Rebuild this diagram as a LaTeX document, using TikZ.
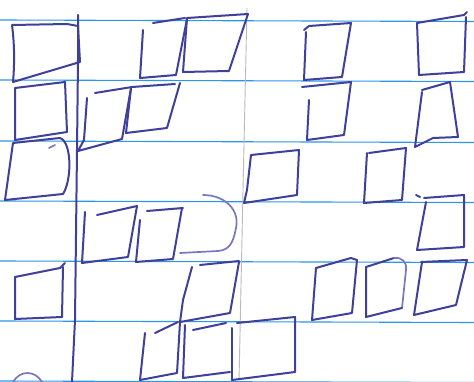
\documentclass[tikz,border=0pt]{standalone}
\definecolor{ink}{RGB}{62,64,156}
\definecolor{inklight}{RGB}{120,120,190}
\definecolor{rule}{RGB}{45,150,230}
\definecolor{pencil}{RGB}{185,185,190}
\tikzset{
  pen/.style={draw=ink, line width=2pt, line join=round, line cap=round},
  penlight/.style={draw=inklight, line width=1.7pt, line join=round, line cap=round},
  ruleline/.style={draw=rule, line width=1.1pt},
  pencilline/.style={draw=pencil, line width=0.9pt}
}
\begin{document}
\begin{tikzpicture}[x=1pt,y=-1pt]
\useasboundingbox (0,0) rectangle (474,382);
\fill[white] (0,0) rectangle (474,382);
% ruled lines
\foreach \y in {20,80,141,201,261,321,381}
  \draw[ruleline] (0,\y) -- (474,\y+1.5);
% pencil margin line
\draw[pencilline] (247,8) -- (243,190) -- (239,382);
% pen margin line
\draw[pen] (78,15) -- (78,60) -- (77,150) -- (75,320) -- (72,382);

% left column
\draw[pen] (12,25) -- (67,24) -- (78,26) -- (80,62) -- (13,82) .. controls (15,60) and (14,40) .. (12,25);
\draw[pen] (15,88) -- (65,82) -- (67,132) -- (15,140) -- cycle;
\draw[pen] (13,143) -- (60,138) .. controls (72,142) and (72,180) .. (63,194) -- (5,200) -- cycle;
\draw[penlight] (49,148) -- (55,145);
\draw[pen] (15,277) -- (60,268) -- (65,263);
\draw[pen] (63,267) -- (62,317) -- (15,319) -- (15,277);
\draw[penlight] (13,382) .. controls (20,370) and (35,370) .. (42,382);

% middle column, row 1
\draw[pen] (143,30) -- (140,78) -- (176,75) -- (187,19);
\draw[pen] (153,23) -- (185,18);
\draw[pen] (187,18) -- (248,14) -- (229,71) -- (183,72) -- (187,18);
% row 2
\draw[pen] (87,98) -- (84,140) -- (78,151) -- (122,139) -- (131,88);
\draw[pen] (95,93) -- (132,87);
\draw[pen] (131,88) -- (126,133) -- (167,128) -- (180,83);
\draw[pen] (132,87) -- (175,84);
% row 3
\draw[pen] (85,212) -- (82,263) -- (128,257) -- (137,206);
\draw[pen] (97,215) -- (137,206);
\draw[pen] (140,220) -- (136,262) -- (173,259) -- (182,208);
\draw[pen] (147,211) -- (183,208);
\draw[penlight] (203,195) .. controls (225,195) and (240,210) .. (236,228)
  .. controls (233,245) and (228,250) .. (218,251) -- (180,253);
% row 4
\draw[pen] (192,267) -- (183,300) -- (180,322) -- (230,313) -- (239,262);
\draw[pen] (200,265) -- (239,261);
% row 5
\draw[pen] (145,333) -- (140,380) -- (177,373) -- (180,322);
\draw[pen] (155,333) -- (178,322);
\draw[pen] (185,325) -- (183,378) -- (230,372);
\draw[pen] (232,328) -- (232,380);
\draw[pen] (193,330) -- (226,323);
\draw[pen] (237,323) -- (295,317) -- (295,372) -- (232,380);

% right column
\draw[pen] (304,30) -- (309,26) -- (351,23) -- (342,77) -- (304,80) -- (306,32);
\draw[pen] (417,23) -- (464,15) -- (467,12);
\draw[pen] (466,17) -- (464,72) -- (419,75) -- (417,23);
\draw[pen] (302,87) -- (351,82) -- (344,135) -- (307,140) -- (309,100);
\draw[pen] (422,90) -- (450,82) -- (458,137) -- (433,138) -- (415,147) -- (422,92);
\draw[pen] (251,155) -- (299,150) -- (297,195) -- (244,203) -- (247,190) -- (251,155);
\draw[pen] (369,153) -- (406,148) -- (402,200) -- (364,203) -- (367,153);
\draw[pen] (416,195) -- (420,197);
\draw[pen] (424,198) -- (464,195) -- (464,247) -- (417,250) -- (426,202);
\draw[pen] (316,268) -- (351,258) -- (357,260);
\draw[pen] (357,260) -- (352,313) -- (312,320) -- (316,268);
\draw[pen] (366,267) -- (394,258);
\draw[penlight] (394,258) .. controls (402,257) and (407,262) .. (406,270) -- (402,308);
\draw[pen] (402,308) -- (366,317) -- (366,267);
\draw[pen] (421,262) -- (467,260) -- (456,305) -- (414,315) -- (422,262);
\end{tikzpicture}
\end{document}
